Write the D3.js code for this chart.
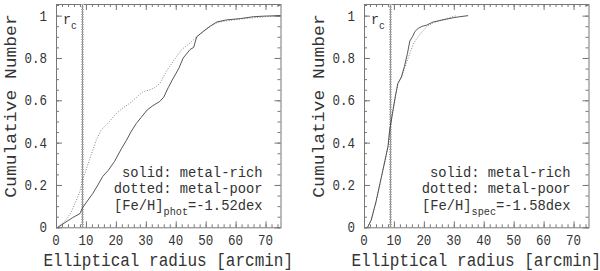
<!DOCTYPE html>
<html><head><meta charset="utf-8">
<script src="https://cdn.jsdelivr.net/npm/d3@7"></script>
<style>
html,body{margin:0;padding:0;background:#fff;}
svg{display:block;}
text{font-family:"Liberation Mono","Courier New",monospace;fill:#333;}
</style></head>
<body><svg id="c" width="600" height="271"></svg>
<script>
// ---- data ----
const xTickValues = [0,10,20,30,40,50,60,70];
const yTickValues = [0,0.2,0.4,0.6,0.8,1];
const yTickLabels = ["0","0.2","0.4","0.6","0.8","1"];
const rcValue = 8.7;

const leftRichX = [0.6,3,5.5,8,8.9,10,12.3,14,15.6,17.5,19.5,21.8,23.5,25,26.8,28.5,30.5,32.4,34.7,36,37.5,39.2,41,42.5,44.8,46,47,49.2,51.5,53.7,57,61.6,66,70,75];
const leftRichY = [0,0.022,0.045,0.065,0.093,0.115,0.16,0.2,0.24,0.27,0.31,0.37,0.41,0.45,0.49,0.52,0.555,0.575,0.595,0.615,0.66,0.705,0.75,0.8,0.84,0.85,0.9,0.925,0.95,0.97,0.98,0.986,0.995,0.998,1.0];
const leftPoorX = [0.6,3.3,5,6.6,8,8.8,10,11.2,13.4,15.1,16.5,17.9,19.6,22,24.6,27,29,31.4,33,34.7,37,39.2,42,44.8,47,49,51.5,54,57,62,66,70,75];
const leftPoorY = [0,0.033,0.07,0.12,0.17,0.22,0.27,0.32,0.41,0.46,0.48,0.5,0.53,0.56,0.586,0.615,0.64,0.65,0.66,0.68,0.74,0.785,0.84,0.87,0.9,0.925,0.95,0.968,0.975,0.985,0.99,0.995,1.0];

const rightRichX = [1.2,2.4,4,6,8,8.6,9.7,10.5,11.3,12.5,13.5,14.5,15.3,16.2,17,18.1,19.5,20.9,23.1,26.4,29.8,32,34.8];
const rightRichY = [0,0.034,0.12,0.25,0.38,0.46,0.555,0.62,0.68,0.71,0.76,0.82,0.88,0.9,0.925,0.94,0.95,0.955,0.97,0.98,0.99,0.995,1.0];
const rightPoorX = [1.2,2.4,4,6,8,8.6,9.7,10.5,11.3,12.5,13.5,14.5,15.8,16.6,17.5,19.2,21,23,26,28.5,30.9];
const rightPoorY = [0,0.034,0.12,0.25,0.38,0.46,0.55,0.62,0.675,0.71,0.75,0.79,0.84,0.87,0.89,0.92,0.95,0.965,0.98,0.99,1.0];

const panelSub = ["phot","spec"];
const panelVal = ["=-1.52dex","=-1.58dex"];
const legendLines = ["solid: metal-rich","dotted: metal-poor"];

// ---- drawing ----
const svg = d3.select("#c");
const SQ = 0.89;
const frameCol = "#777";

const panels = [
  {off:0, rx:leftRichX, ry:leftRichY, px:leftPoorX, py:leftPoorY, sub:panelSub[0], val:panelVal[0]},
  {off:308, rx:rightRichX, ry:rightRichY, px:rightPoorX, py:rightPoorY, sub:panelSub[1], val:panelVal[1]}
];

function sqText(g, x, y, size, anchor, str){
  const t = g.append("g").attr("transform",`translate(${x},${y}) scale(${SQ},1)`)
    .append("text").attr("font-size",size).attr("text-anchor",anchor);
  if(str!==undefined) t.text(str);
  return t;
}

panels.forEach(p=>{
  const x = d3.scaleLinear().domain([0,75]).range([56+p.off, 280.5+p.off]);
  const y = d3.scaleLinear().domain([0,1.055]).range([227.3,4]);
  const g = svg.append("g");

  const styleAxis = sel => {
    sel.select(".domain").remove();
    sel.selectAll("line").attr("stroke",frameCol);
  };
  const xMinor = d3.range(0,76,2), yMinor = d3.range(0,1.051,0.05);
  g.append("g").attr("transform",`translate(0,${y(0)})`).call(d3.axisBottom(x).tickValues(xMinor).tickSize(-3).tickFormat("")).call(styleAxis);
  g.append("g").attr("transform",`translate(0,${y(0)})`).call(d3.axisBottom(x).tickValues(xTickValues).tickSize(-6).tickFormat("")).call(styleAxis);
  g.append("g").attr("transform",`translate(0,${y(1.055)})`).call(d3.axisTop(x).tickValues(xMinor).tickSize(-3).tickFormat("")).call(styleAxis);
  g.append("g").attr("transform",`translate(0,${y(1.055)})`).call(d3.axisTop(x).tickValues(xTickValues).tickSize(-6).tickFormat("")).call(styleAxis);
  g.append("g").attr("transform",`translate(${x(0)},0)`).call(d3.axisLeft(y).tickValues(yMinor).tickSize(-3).tickFormat("")).call(styleAxis);
  g.append("g").attr("transform",`translate(${x(0)},0)`).call(d3.axisLeft(y).tickValues(yTickValues).tickSize(-6).tickFormat("")).call(styleAxis);
  g.append("g").attr("transform",`translate(${x(75)},0)`).call(d3.axisRight(y).tickValues(yMinor).tickSize(-3).tickFormat("")).call(styleAxis);
  g.append("g").attr("transform",`translate(${x(75)},0)`).call(d3.axisRight(y).tickValues(yTickValues).tickSize(-6).tickFormat("")).call(styleAxis);

  g.append("rect").attr("x",x(0)+0.5).attr("y",y(1.055)+0.5)
    .attr("width",x(75)-x(0)).attr("height",y(0)-y(1.055))
    .attr("fill","none").attr("stroke",frameCol).attr("stroke-width",1);

  // rc line
  const rx = Math.round(x(rcValue))+0.5;
  g.append("line").attr("x1",rx).attr("x2",rx).attr("y1",y(1.055)).attr("y2",y(0))
    .attr("stroke","#888").attr("stroke-width",1);
  g.append("line").attr("x1",rx).attr("x2",rx).attr("y1",y(1.055)).attr("y2",y(0))
    .attr("stroke","#aaa").attr("stroke-width",3).attr("stroke-dasharray","1,1.5");

  // curves
  const line = d3.line().x(d=>x(d[0])).y(d=>y(d[1]));
  g.append("path").datum(d3.zip(p.px,p.py)).attr("d",line)
    .attr("fill","none").attr("stroke","#777").attr("stroke-width",0.9).attr("stroke-dasharray","1,1.6");
  g.append("path").datum(d3.zip(p.rx,p.ry)).attr("d",line)
    .attr("fill","none").attr("stroke","#444").attr("stroke-width",0.9);

  xTickValues.forEach(v=>sqText(g, x(v), 245, 14, "middle", String(v)));
  yTickValues.forEach((v,i)=>sqText(g, 47+p.off, y(v)+5, 14, "end", yTickLabels[i]));

  sqText(g, (x(0)+x(75))/2, 265.5, 18, "middle", "Elliptical radius [arcmin]");
  g.append("g").attr("transform",`translate(${15.5+p.off},106) scale(${SQ},1) rotate(-90)`)
    .append("text").attr("font-size",18).attr("text-anchor","middle").text("Cumulative Number");

  const rc = sqText(g, 63+p.off, 24, 15, "start");
  rc.append("tspan").text("r");
  rc.append("tspan").attr("dy",5).attr("font-size",11).text("c");

  sqText(g, 262.5+p.off, 176.5, 15.5, "end", legendLines[0]);
  sqText(g, 262.5+p.off, 192.5, 15.5, "end", legendLines[1]);
  const ann = sqText(g, 262.5+p.off, 210, 15.5, "end");
  ann.append("tspan").text("[Fe/H]");
  ann.append("tspan").attr("dy",5).attr("font-size",11.5).text(p.sub);
  ann.append("tspan").attr("dy",-5).text(p.val);
});
</script></body></html>
